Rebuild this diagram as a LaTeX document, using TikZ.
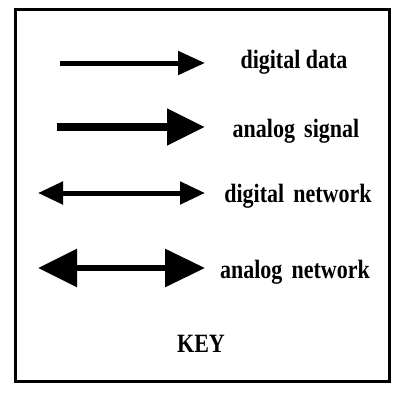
\documentclass[tikz,border=0pt]{standalone}
\usepackage{fontspec}
\setmainfont{Liberation Serif}
\usetikzlibrary{arrows.meta,positioning}
\tikzset{
    %Define style for the frame
    frame/.style={
           draw=black, line width=3pt},
    %Define style for the key texts
    lbl/.style={
           font=\bfseries\fontsize{22}{26}\selectfont,
           anchor=base, inner sep=0pt,
           yscale=1.2, transform shape},
    % Define arrow styles
    ddata/.style={-{Triangle[length=27pt,width=23pt]}, line width=5pt},
    asignal/.style={-{Triangle[length=38pt,width=35pt]}, line width=8pt},
    dnet/.style={{Triangle[length=25pt,width=22pt]}-{Triangle[length=25pt,width=22pt]}, line width=5pt},
    anet/.style={{Triangle[length=39pt,width=37pt]}-{Triangle[length=40pt,width=37pt]}, line width=6pt}
}
\begin{document}
\begin{tikzpicture}[x=1pt,y=-1pt]
 \useasboundingbox (0,0) rectangle (394,394);
 %Frame
 \draw[frame] (15,9) rectangle (389,381);

 %Arrow ends
 \coordinate (dd1) at (60,63);  \coordinate (dd2) at (205,63);
 \coordinate (as1) at (57,127); \coordinate (as2) at (205,127);
 \coordinate (dn1) at (38,193); \coordinate (dn2) at (205,193);
 \coordinate (an1) at (38,268); \coordinate (an2) at (205,268);

 %Arrows
 \draw[ddata] (dd1) -- (dd2);
 \draw[asignal] (as1) -- (as2);
 \draw[dnet] (dn1) -- (dn2);
 \draw[anet] (an1) -- (an2);

 %Labels
 \node[lbl] (ddl) at (294,68) {digital data};
 \node[lbl] (asl) at (296,137) {analog\, signal};
 \node[lbl] (dnl) at (298,202) {digital\, network};
 \node[lbl] (anl) at (295,278) {analog\, network};
 \node[lbl] (key) at (201,352) {KEY};
\end{tikzpicture}
\end{document}
